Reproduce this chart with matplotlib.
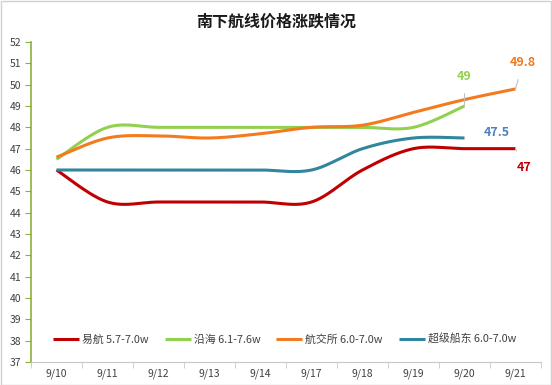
import matplotlib
matplotlib.use('Agg')
import matplotlib.pyplot as plt
import numpy as np

plt.rcParams['font.family'] = ['Noto Sans CJK SC', 'DejaVu Sans']

dates = ['9/10', '9/11', '9/12', '9/13', '9/14', '9/17', '9/18', '9/19', '9/20', '9/21']
yihang = [46, 44.5, 44.5, 44.5, 44.5, 44.5, 46, 47, 47, 47]
yanhai = [46.5, 48, 48, 48, 48, 48, 48, 48, 49]
hangjiaosuo = [46.6, 47.5, 47.6, 47.5, 47.7, 48, 48.1, 48.7, 49.3, 49.8]
chaoji = [46, 46, 46, 46, 46, 46, 47, 47.5, 47.5]

names = ['易航 5.7-7.0w', '沿海 6.1-7.6w', '航交所 6.0-7.0w', '超级船东 6.0-7.0w']
colors = ['#C00000', '#92D050', '#F47A1F', '#31859C']


def smooth(ys, n=30):
    # excel style smoothed line (catmull-rom bezier)
    p = np.column_stack([np.arange(len(ys)), ys]).astype(float)
    pts = [p[0]]
    for i in range(len(p) - 1):
        p0 = p[i - 1] if i > 0 else p[i]
        p3 = p[i + 2] if i + 2 < len(p) else p[i + 1]
        c1 = p[i] + (p[i + 1] - p0) / 6
        c2 = p[i + 1] - (p3 - p[i]) / 6
        t = np.linspace(0, 1, n)[1:, None]
        seg = ((1 - t) ** 3 * p[i] + 3 * (1 - t) ** 2 * t * c1
               + 3 * (1 - t) * t ** 2 * c2 + t ** 3 * p[i + 1])
        pts.extend(seg)
    pts = np.array(pts)
    return pts[:, 0], pts[:, 1]


fig = plt.figure(figsize=(5.52, 3.85), dpi=100)
fig.patches.append(plt.Rectangle((0.001, 0.001), 0.997, 0.997, transform=fig.transFigure,
                                 fill=False, edgecolor='#D0D0D0', lw=1))
ax = fig.add_axes([31 / 552, 23 / 385, 510 / 552, 320 / 385])

for s, c, nm in zip([yihang, yanhai, hangjiaosuo, chaoji], colors, names):
    x, y = smooth(s)
    ax.plot(x, y, color=c, lw=2.2, label=nm, solid_capstyle='butt')

ax.set_xlim(-0.5, 9.5)
ax.set_ylim(37, 52)
ax.set_yticks(range(37, 53))
ax.set_xticks(range(len(dates)))
ax.set_xticklabels(dates)
ax.set_xticks(np.arange(-0.5, 10, 1), minor=True)
ax.tick_params(axis='x', which='major', length=0, pad=5, labelsize=7.5, labelcolor='#404040')
ax.tick_params(axis='x', which='minor', length=4, color='#C8C8C8', direction='out')
ax.tick_params(axis='y', length=4, color='#8DB03B', labelsize=7.5, labelcolor='#404040', pad=3)
for sp in ['top', 'right']:
    ax.spines[sp].set_visible(False)
ax.spines['left'].set_color('#8DB03B')
ax.spines['left'].set_linewidth(1.2)
ax.spines['bottom'].set_color('#C8C8C8')
ax.spines['bottom'].set_linestyle((0, (1, 1)))

fig.text(0.5, 0.945, '南下航线价格涨跌情况', ha='center', va='center', fontsize=11.5,
         fontweight='bold', color='#1A1A1A')

leg = ax.legend(loc='lower left', bbox_to_anchor=(0.035, 0.04), ncol=4, frameon=False,
                fontsize=7.8, handlelength=2.4, columnspacing=1.45, handletextpad=0.3,
                borderaxespad=0)
for t in leg.get_texts():
    t.set_color('#404040')

lc = '#BFBFBF'
ax.annotate('49.8', xy=(9, hangjiaosuo[9]), xytext=(9.15, 51.05), ha='center', va='center',
            color='#F47A1F', fontsize=9, fontweight='bold', annotation_clip=False,
            arrowprops=dict(arrowstyle='-', color=lc, lw=0.8, shrinkA=6, shrinkB=0))
ax.annotate('49', xy=(8, yanhai[8]), xytext=(8, 50.4), ha='center', va='center',
            color='#92D050', fontsize=9, fontweight='bold', annotation_clip=False,
            arrowprops=dict(arrowstyle='-', color=lc, lw=0.8, shrinkA=6, shrinkB=0))
ax.annotate('47.5', xy=(8, chaoji[8]), xytext=(8.64, 47.74), ha='center', va='center',
            color='#4F81BD', fontsize=9, fontweight='bold',
            arrowprops=dict(arrowstyle='-', color=lc, lw=0.8, shrinkA=12, shrinkB=0))
ax.annotate('47', xy=(9, yihang[9]), xytext=(9.17, 46.1), ha='center', va='center',
            color='#C00000', fontsize=9, fontweight='bold',
            arrowprops=dict(arrowstyle='-', color=lc, lw=0.8, shrinkA=6, shrinkB=0))

fig.savefig('out.png', dpi=100)
